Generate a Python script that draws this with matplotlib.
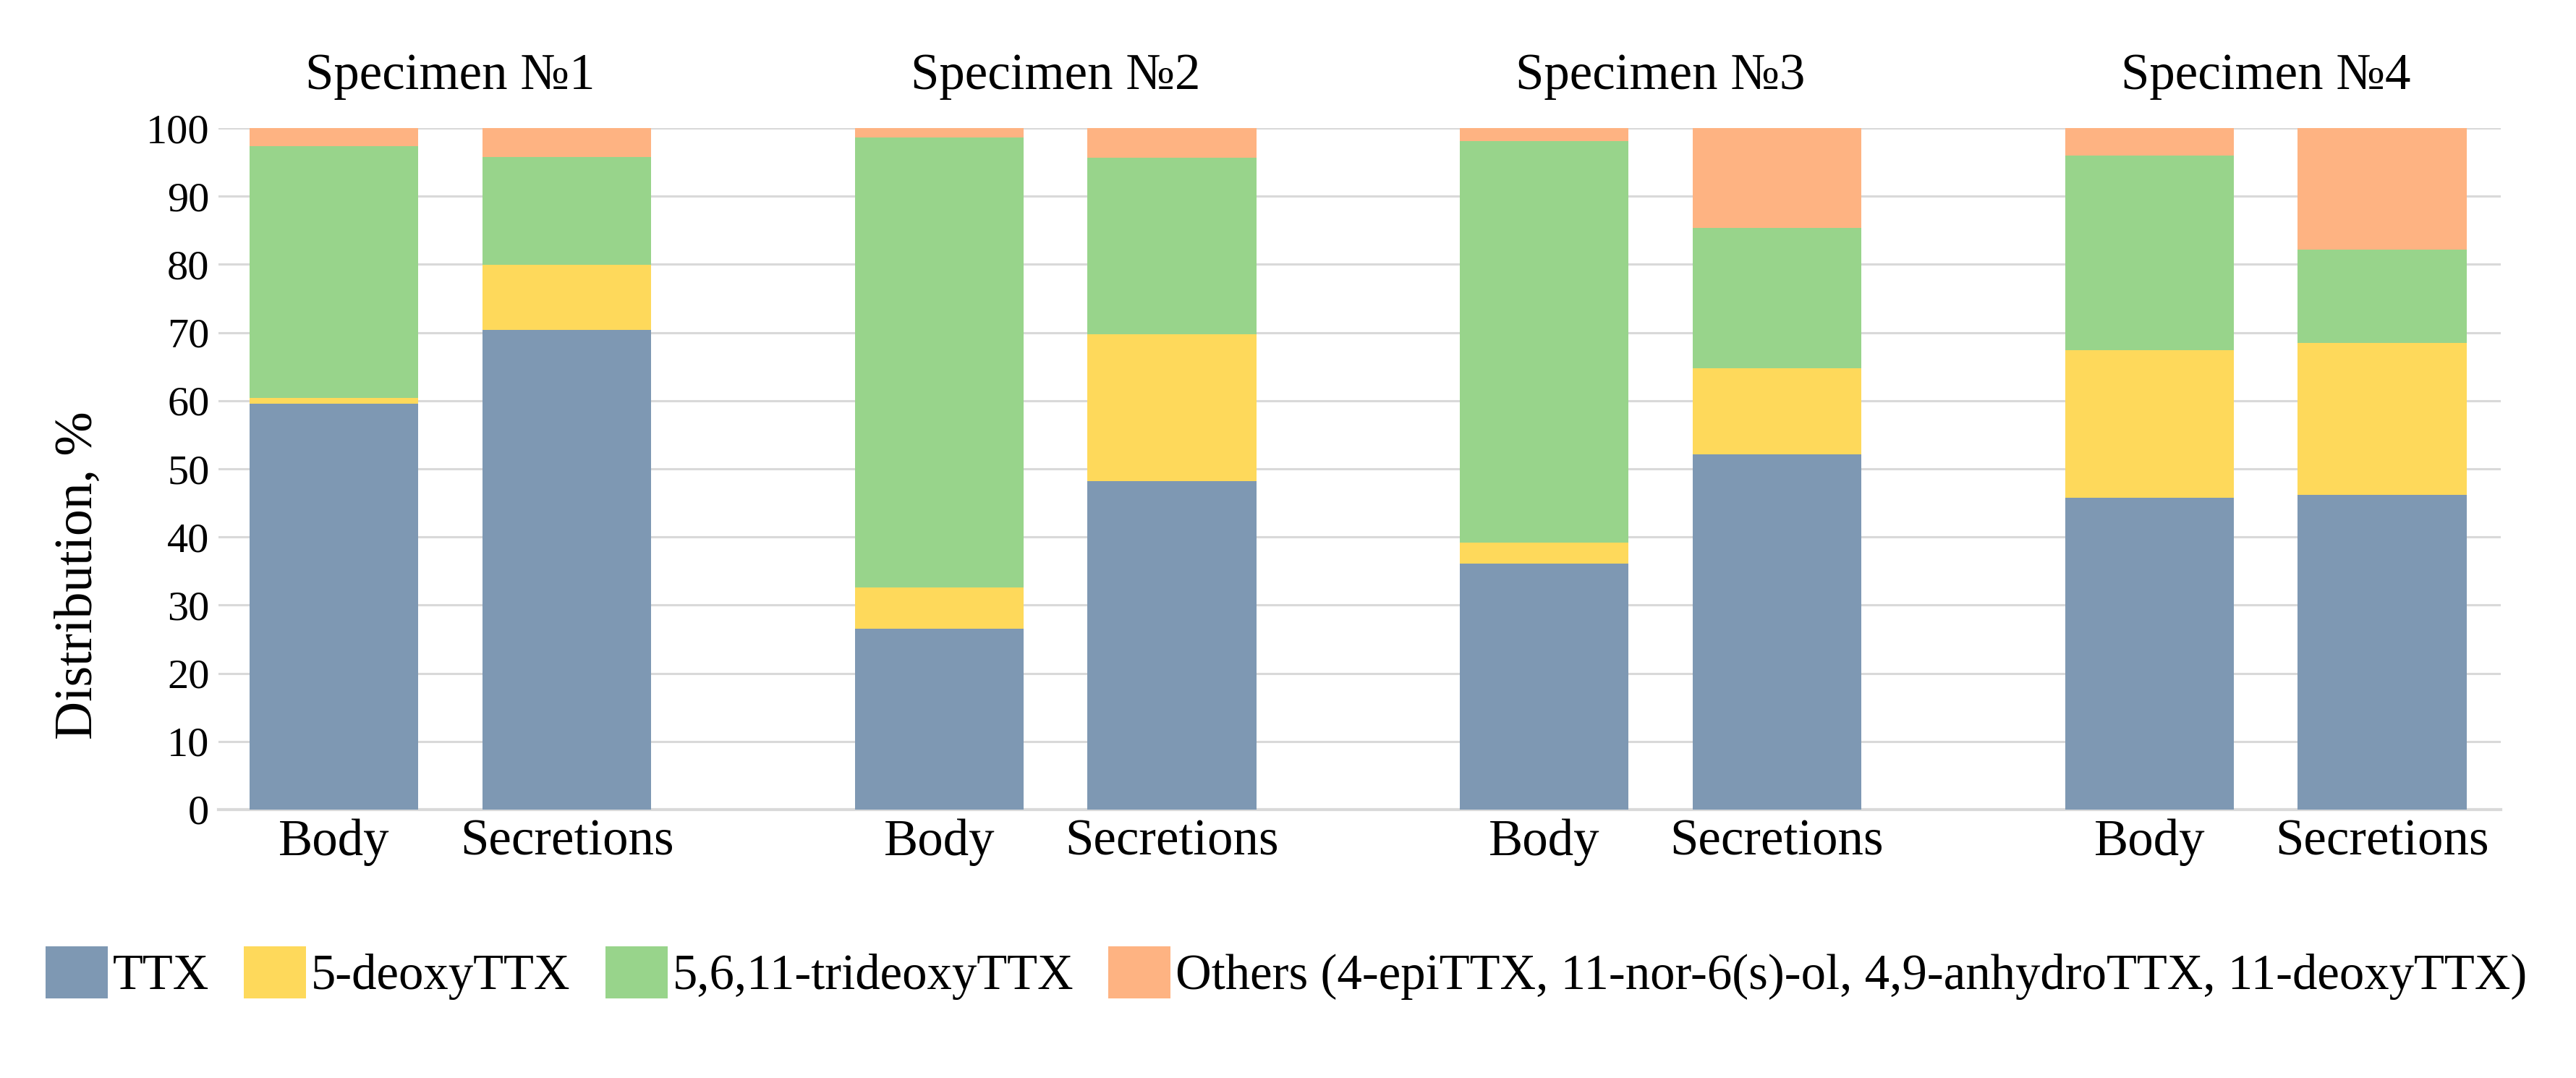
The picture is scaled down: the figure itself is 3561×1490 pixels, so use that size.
import numpy as np
from matplotlib import pyplot as plt
from matplotlib.patches import Patch
from matplotlib.transforms import blended_transform_factory

# data (percent of total)
specimens = ['Specimen №1', 'Specimen №2', 'Specimen №3', 'Specimen №4']
parts = ['Body', 'Secretions']
ttx      = [59.6, 70.4, 26.5, 48.2, 36.1, 52.1, 45.8, 46.2]
deoxy5   = [0.8, 9.5, 6.1, 21.5, 3.1, 12.7, 21.6, 22.3]
trideoxy = [36.9, 15.9, 66.0, 26.0, 58.9, 20.6, 28.6, 13.7]
others   = [2.7, 4.2, 1.4, 4.3, 1.9, 14.6, 4.0, 17.8]
series_names = ['TTX', '5-deoxyTTX', '5,6,11-trideoxyTTX',
                'Others (4-epiTTX, 11-nor-6(s)-ol, 4,9-anhydroTTX, 11-deoxyTTX)']


def plotter():
    plt.rcParams['font.family'] = ['Liberation Serif', 'DejaVu Serif']
    colors = ['#7E98B3', '#FED95B', '#98D48B', '#FEB382']

    fig = plt.figure(figsize=(35.61, 14.90), dpi=100)
    ax = fig.add_axes([0.0848, 0.249, 0.886, 0.6322])

    # bar positions: two bars per specimen, groups spaced apart
    group_gap = 2.6
    x = np.array([g * group_gap + p for g in range(len(specimens)) for p in range(len(parts))])
    width = 0.725

    series = [ttx, deoxy5, trideoxy, others]
    bottom = np.zeros(len(x))
    for vals, c in zip(series, colors):
        vals = np.array(vals)
        ax.bar(x, vals, width=width, bottom=bottom, color=c, linewidth=0, zorder=3)
        bottom += vals

    ax.set_ylim(0, 100)
    ax.set_xlim(x[0] - 0.497, x[-1] + 0.51)
    ax.set_yticks(np.arange(0, 101, 10))
    ax.set_xticks(x)
    ax.set_xticklabels(parts * len(specimens))
    ax.tick_params(axis='x', length=0, pad=9, labelsize=51)
    ax.tick_params(axis='y', length=0, pad=9, labelsize=42)

    ax.grid(axis='y', color='#D9D9D9', linewidth=2.2, zorder=0)
    for s in ['top', 'right', 'left']:
        ax.spines[s].set_visible(False)
    ax.spines['bottom'].set_color('#D9D9D9')
    ax.spines['bottom'].set_linewidth(3)

    # specimen headers above each pair of bars
    trans = blended_transform_factory(ax.transData, fig.transFigure)
    for g, name in enumerate(specimens):
        cx = g * group_gap + 0.5
        ax.text(cx, 1 - 106 / 1490, name, transform=trans, ha='center', va='center',
                fontsize=51)

    fig.text(109 / 3561, 1 - 795 / 1490, 'Distribution, %', rotation=90,
             ha='center', va='center', fontsize=53)

    handles = [Patch(facecolor=c, edgecolor='none') for c in colors]
    fig.legend(handles, series_names, loc='center', bbox_to_anchor=(0.4993, 1 - 1345 / 1490),
               ncol=4, frameon=False, fontsize=49.5, handlelength=1.25, handleheight=1.25,
               handletextpad=0.1, columnspacing=0.7)

    fig.savefig('out.png', dpi=100)


if __name__ == '__main__':
    plotter()
